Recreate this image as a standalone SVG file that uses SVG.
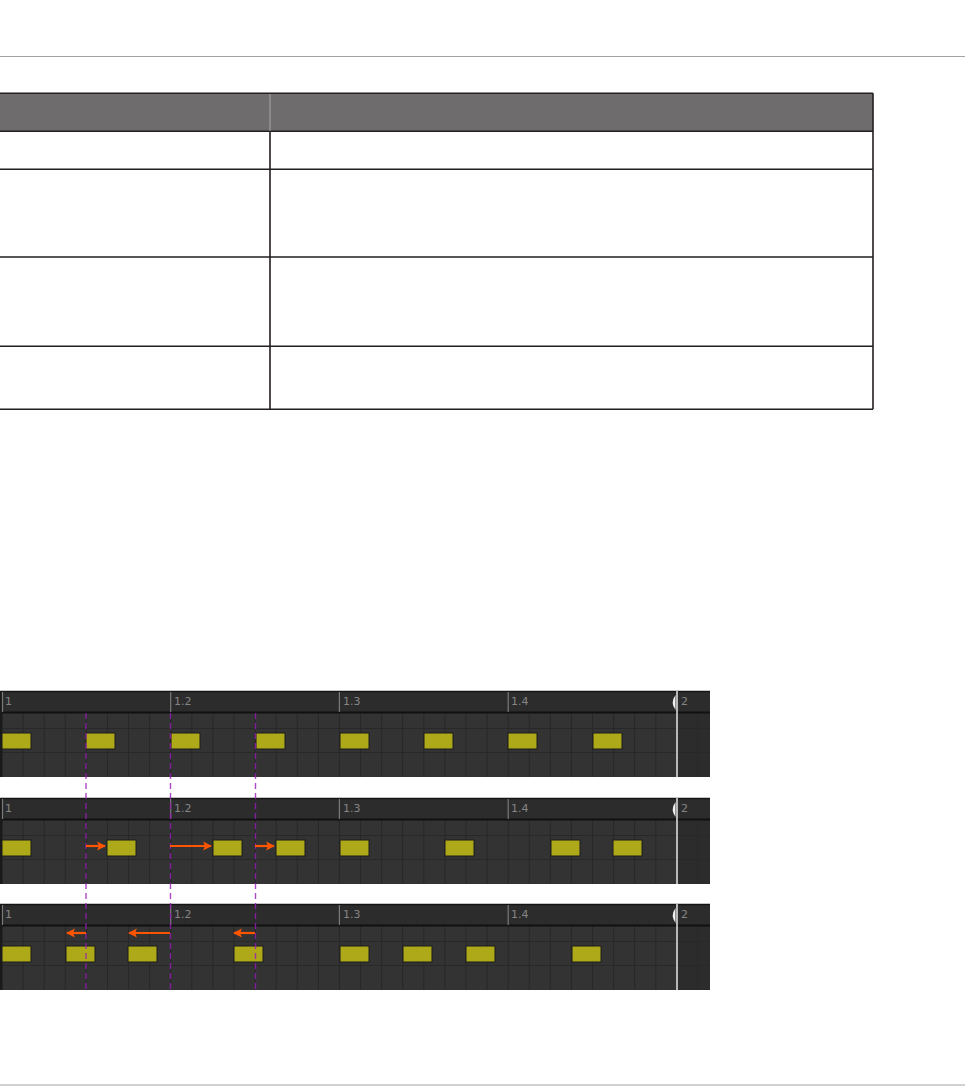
<svg xmlns="http://www.w3.org/2000/svg" xmlns:xlink="http://www.w3.org/1999/xlink" width="965" height="1086" viewBox="0 0 965 1086">
<style>
.tline{stroke:#231f20;stroke-width:1.6;fill:none}
.rule{stroke:#a3a3a3;stroke-width:1.2}
.hdr{fill:#2c2c2c}
.grid{fill:#333333}
.gl{stroke:#282828;stroke-width:1;fill:none}
.beat{stroke:#7a7a7a;stroke-width:1.2}
.lbl{font-family:"DejaVu Sans","Liberation Sans",sans-serif;font-size:11px;fill:#858585}
.note{fill:#ada918;stroke:#1c1c1c;stroke-width:1}
.play{stroke:#e6e6e6;stroke-width:1.5}
.guide{stroke:#9a1cb8;stroke-width:1.4;stroke-dasharray:6 4;stroke-opacity:0.8}
.arr{stroke:#ff5500;stroke-width:2.2;fill:none}
</style>
<defs>
<marker id="ah" viewBox="0 0 10 10" refX="9" refY="5" markerWidth="4" markerHeight="4.2" orient="auto" markerUnits="strokeWidth">
<path d="M0,0 L10,5 L0,10 L2,5 Z" fill="#ff5500"/>
</marker>
<g id="stripbase">
<rect x="0" y="0" width="710" height="86" class="grid"/>
<rect x="677" y="21" width="33" height="65" fill="#2c2c2c"/>
<rect x="0" y="0" width="710" height="21" class="hdr"/>
<path class="gl" d="M23.1,21V86M44.2,21V86M65.3,21V86M86.4,21V86M107.5,21V86M128.5,21V86M149.6,21V86M170.7,21V86M191.8,21V86M212.9,21V86M234,21V86M255.1,21V86M276.2,21V86M297.3,21V86M318.4,21V86M339.4,21V86M360.5,21V86M381.6,21V86M402.7,21V86M423.8,21V86M444.9,21V86M466,21V86M487.1,21V86M508.2,21V86M529.3,21V86M550.3,21V86M571.4,21V86M592.5,21V86M613.6,21V86M634.7,21V86M655.8,21V86M698,21V86M0,37.5H710M0,61.5H710"/>
<line x1="0" y1="0.5" x2="710" y2="0.5" stroke="#151515" stroke-width="1.5"/>
<line x1="0" y1="21.5" x2="710" y2="21.5" stroke="#111" stroke-width="2"/>
<rect x="0" y="0" width="2.5" height="86" fill="#1a1a1a"/>
<path class="beat" d="M2.5,1V21M170.7,1V21M339.4,1V21M508.2,1V21"/>
<path d="M675.5,4 L675.5,19 Q670,11.5 675.5,4 Z" fill="#f0f0f0"/>
<line x1="677" y1="0" x2="677" y2="86" class="play"/>
</g>
</defs>

<line x1="0" y1="56.5" x2="965" y2="56.5" class="rule"/>
<line x1="0" y1="1085" x2="965" y2="1085" class="rule"/>

<g id="table">
<rect x="0" y="93.3" width="873" height="38" fill="#6f6c6d"/>
<path class="tline" d="M0,93.3H873M0,131.3H873M0,169.3H873M0,257H873M0,346.3H873M0,409.3H873M873,93.3V409.3M270,131.3V409.3"/>
<line x1="270" y1="94" x2="270" y2="131" stroke="#a8a6a7" stroke-width="1"/>
</g>

<g id="strip1" transform="translate(0,691)">
<use xlink:href="#stripbase"/>
<text class="lbl" x="5" y="14">1</text>
<text class="lbl" x="174" y="14">1.2</text>
<text class="lbl" x="343" y="14">1.3</text>
<text class="lbl" x="511" y="14">1.4</text>
<text class="lbl" x="681" y="14">2</text>
<rect class="note" x="2" y="42" width="29" height="16"/>
<rect class="note" x="86" y="42" width="29" height="16"/>
<rect class="note" x="171" y="42" width="29" height="16"/>
<rect class="note" x="256" y="42" width="29" height="16"/>
<rect class="note" x="340" y="42" width="29" height="16"/>
<rect class="note" x="424" y="42" width="29" height="16"/>
<rect class="note" x="508" y="42" width="29" height="16"/>
<rect class="note" x="593" y="42" width="29" height="16"/>
</g>

<g id="strip2" transform="translate(0,798)">
<use xlink:href="#stripbase"/>
<text class="lbl" x="5" y="14">1</text>
<text class="lbl" x="174" y="14">1.2</text>
<text class="lbl" x="343" y="14">1.3</text>
<text class="lbl" x="511" y="14">1.4</text>
<text class="lbl" x="681" y="14">2</text>
<rect class="note" x="2" y="42" width="29" height="16"/>
<rect class="note" x="107" y="42" width="29" height="16"/>
<rect class="note" x="213" y="42" width="29" height="16"/>
<rect class="note" x="276" y="42" width="29" height="16"/>
<rect class="note" x="340" y="42" width="29" height="16"/>
<rect class="note" x="445" y="42" width="29" height="16"/>
<rect class="note" x="551" y="42" width="29" height="16"/>
<rect class="note" x="613" y="42" width="29" height="16"/>
</g>

<g id="strip3" transform="translate(0,904)">
<use xlink:href="#stripbase"/>
<text class="lbl" x="5" y="14">1</text>
<text class="lbl" x="174" y="14">1.2</text>
<text class="lbl" x="343" y="14">1.3</text>
<text class="lbl" x="511" y="14">1.4</text>
<text class="lbl" x="681" y="14">2</text>
<rect class="note" x="2" y="42" width="29" height="16"/>
<rect class="note" x="66" y="42" width="29" height="16"/>
<rect class="note" x="128" y="42" width="29" height="16"/>
<rect class="note" x="234" y="42" width="29" height="16"/>
<rect class="note" x="340" y="42" width="29" height="16"/>
<rect class="note" x="403" y="42" width="29" height="16"/>
<rect class="note" x="466" y="42" width="29" height="16"/>
<rect class="note" x="572" y="42" width="29" height="16"/>
</g>

<g id="connectors">
<line class="guide" x1="86" y1="713" x2="86" y2="990"/>
<line class="guide" x1="170.5" y1="713" x2="170.5" y2="990"/>
<line class="guide" x1="255.5" y1="713" x2="255.5" y2="990"/>
<line class="arr" x1="86" y1="846" x2="105" y2="846" marker-end="url(#ah)"/>
<line class="arr" x1="170" y1="846" x2="211" y2="846" marker-end="url(#ah)"/>
<line class="arr" x1="255" y1="846" x2="274" y2="846" marker-end="url(#ah)"/>
<line class="arr" x1="86" y1="933" x2="67" y2="933" marker-end="url(#ah)"/>
<line class="arr" x1="170" y1="933" x2="129" y2="933" marker-end="url(#ah)"/>
<line class="arr" x1="255" y1="933" x2="234" y2="933" marker-end="url(#ah)"/>
</g>
</svg>
